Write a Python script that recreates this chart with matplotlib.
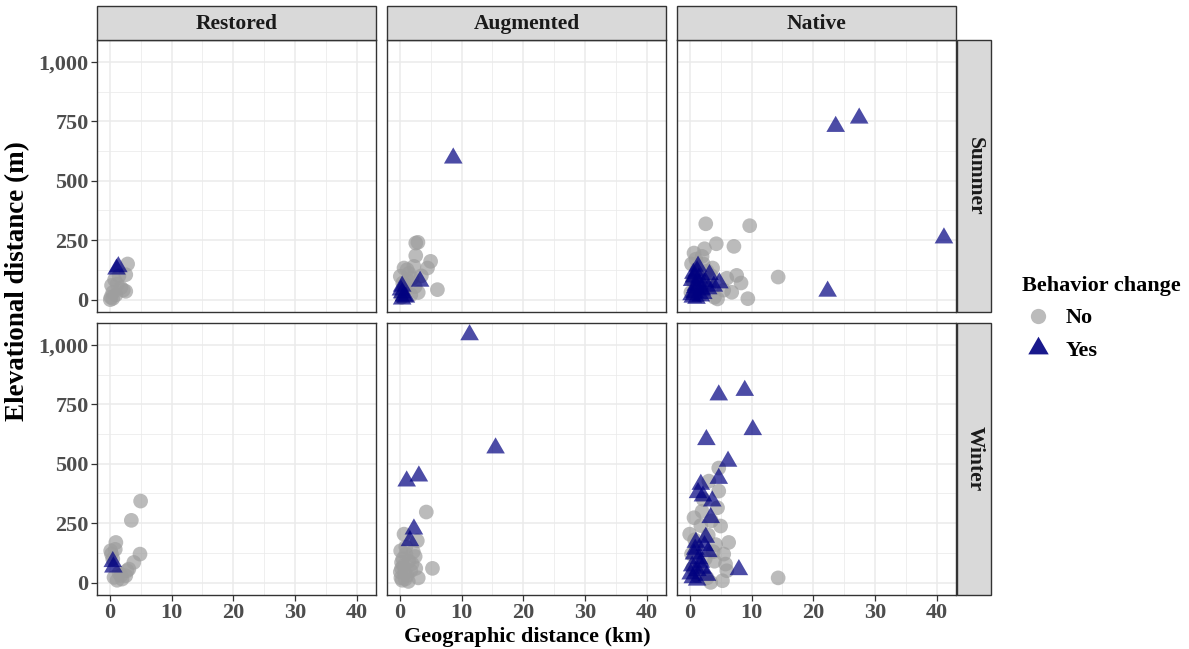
import matplotlib
matplotlib.use("Agg")
import matplotlib.pyplot as plt
from matplotlib.lines import Line2D
from matplotlib.patches import Rectangle
from matplotlib.ticker import MultipleLocator, FuncFormatter

plt.rcParams['font.family'] = ['Liberation Serif', 'DejaVu Serif']
plt.rcParams['font.weight'] = 'bold'

habitats = ["Restored", "Augmented", "Native"]
seasons = ["Summer", "Winter"]
x_ticks = [0, 10, 20, 30, 40]
y_ticks = [0, 250, 500, 750, 1000]

# Restored / Summer
rs_no_x = [0.2, 0.5, 0.3, 0.8, 1.0, 2.6, 2.6, 2.9, 1.5, 0.5, 1.8, 2.2, 0.1, 1.2]
rs_no_y = [10, 30, 60, 84, 20, 35, 105, 150, 100, 5, 50, 40, 0, 65]
rs_yes_x = [1.1, 1.4]
rs_yes_y = [128, 138]

# Augmented / Summer
as_no_x = [2.6, 2.95, 2.6, 5.0, 4.5, 6.1, 0.7, 0.1, 1.2, 2.3, 1.5, 2.0, 0.5, 1.0, 3.0, 1.8, 0.3, 2.5, 1.3, 0.8, 3.5]
as_no_y = [238, 241, 185, 161, 133, 42, 133, 98, 126, 140, 110, 90, 70, 60, 30, 20, 10, 55, 80, 40, 100]
as_yes_x = [8.66, 3.3, 0.4, 0.4, 0.4, 0.7, 0.2, 1.0]
as_yes_y = [595, 77, 56, 28, 2, 15, 40, 10]

# Native / Summer
ns_no_x = [2.6, 9.7, 4.3, 7.15, 2.4, 0.7, 14.3, 7.6, 8.3, 9.4, 6.8, 4.5, 3.7, 2.0, 0.3, 1.0, 1.5, 2.8,
           3.2, 5.5, 0.5, 1.8, 4.0, 6.0, 0.2, 2.2, 3.5, 1.2]
ns_no_y = [319, 311, 235, 224, 214, 196, 95, 102, 70, 4, 31, 3, 133, 182, 150, 170, 100, 120,
           60, 40, 80, 20, 10, 90, 30, 150, 100, 130]
ns_yes_x = [23.6, 27.4, 41.1, 22.3, 1.35, 3.2, 4.8, 3.9, 0.5, 0.8, 1.0, 1.5, 2.0, 0.3, 0.6, 1.2, 2.5,
            1.8, 0.4, 0.9, 1.1, 2.2, 3.0, 0.7, 1.6]
ns_yes_y = [728, 763, 259, 35, 140, 105, 70, 56, 10, 30, 60, 90, 40, 20, 110, 120, 75,
            15, 80, 50, 5, 25, 45, 95, 65]

# Restored / Winter
rw_no_x = [5.0, 3.5, 4.9, 1.0, 0.16, 3.9, 3.1, 2.6, 0.7, 1.5, 2.0, 0.5, 1.2, 0.3, 2.8, 1.8, 0.9]
rw_no_y = [343, 262, 120, 169, 134, 85, 57, 29, 22, 40, 15, 100, 10, 120, 50, 30, 140]
rw_yes_x = [0.5, 0.6]
rw_yes_y = [88, 65]

# Augmented / Winter
aw_no_x = [4.3, 5.3, 0.7, 2.85, 0.16, 0.5, 1.0, 1.5, 2.0, 0.3, 0.8, 1.2, 2.5, 0.2, 0.6, 1.8, 3.0, 0.4,
           1.0, 2.2, 0.1, 1.4, 0.9, 2.6, 0.3]
aw_no_y = [297, 60, 204, 176, 134, 100, 120, 90, 80, 60, 40, 30, 110, 20, 70, 50, 20, 10,
           150, 130, 45, 5, 15, 60, 85]
aw_yes_x = [11.3, 15.5, 1.13, 3.1, 2.3, 1.66]
aw_yes_y = [1042, 566, 427, 448, 225, 176]

# Native / Winter
nw_no_x = [14.3, 4.7, 3.1, 4.7, 0.7, 5.0, 6.3, 5.5, 5.8, 5.3, 3.4, 0.0, 4.5, 2.0, 1.0, 3.0, 2.5, 0.5,
           1.5, 4.0, 3.5, 2.2, 0.3, 1.2, 2.8, 3.8, 0.8, 1.8, 6.0, 4.2]
nw_no_y = [20, 482, 427, 385, 273, 238, 169, 120, 78, 8, 1, 204, 315, 300, 150, 200, 100, 60,
           40, 90, 260, 350, 120, 30, 20, 130, 180, 240, 50, 160]
nw_yes_x = [4.7, 8.9, 10.2, 2.7, 6.2, 4.7, 1.8, 1.35, 2.15, 3.65, 3.4, 7.95, 1.0, 2.6, 2.4, 0.7, 0.16,
            1.25, 3.0, 1.8, 0.5, 2.0, 1.5, 0.9, 2.8, 1.2, 0.4]
nw_yes_y = [789, 808, 643, 601, 510, 438, 413, 378, 364, 343, 273, 54, 169, 190, 155, 120, 36,
            50, 130, 85, 20, 60, 100, 140, 30, 10, 70]

data = {
    ("Summer", "Restored"): (rs_no_x, rs_no_y, rs_yes_x, rs_yes_y),
    ("Summer", "Augmented"): (as_no_x, as_no_y, as_yes_x, as_yes_y),
    ("Summer", "Native"): (ns_no_x, ns_no_y, ns_yes_x, ns_yes_y),
    ("Winter", "Restored"): (rw_no_x, rw_no_y, rw_yes_x, rw_yes_y),
    ("Winter", "Augmented"): (aw_no_x, aw_no_y, aw_yes_x, aw_yes_y),
    ("Winter", "Native"): (nw_no_x, nw_no_y, nw_yes_x, nw_yes_y),
}

W, H = 1189, 649
fig = plt.figure(figsize=(W / 100, H / 100), dpi=100)

col_left = [97, 387, 677]
pw = 279
row_top = [40, 323]
ph = 272

no_color = '#9E9E9E'
yes_color = '#000080'
border = '#333333'
tick_col = '#4D4D4D'

# equilateral triangle marker (ggplot-like shape 17)
tri = [(-1.0, -0.577), (1.0, -0.577), (0.0, 1.155)]

def fx(px):
    return px / W

def fy(py):
    return 1 - py / H

for r, season in enumerate(seasons):
    for c, hab in enumerate(habitats):
        ax = fig.add_axes([fx(col_left[c]), fy(row_top[r] + ph), pw / W, ph / H])
        nx, ny, yx, yy = data[(season, hab)]
        ax.scatter(nx, ny, s=112, marker='o', color=no_color, alpha=0.7, edgecolors='none', zorder=3)
        ax.scatter(yx, yy, s=240, marker=tri, color=yes_color, alpha=0.7, edgecolors='none', zorder=4)
        ax.set_xlim(-2.05, 43.05)
        ax.set_ylim(-52, 1092)
        ax.set_xticks(x_ticks)
        ax.set_yticks(y_ticks)
        ax.xaxis.set_minor_locator(MultipleLocator(5))
        ax.yaxis.set_minor_locator(MultipleLocator(125))
        ax.grid(True, which='major', color='#EBEBEB', linewidth=1.1, zorder=0)
        ax.grid(True, which='minor', color='#EBEBEB', linewidth=0.55, zorder=0)
        ax.set_axisbelow(True)
        ax.tick_params(which='minor', length=0)
        ax.tick_params(which='major', length=4, width=0.9, color=border, labelcolor=tick_col,
                       labelsize=16, pad=2)
        for sp in ax.spines.values():
            sp.set_color(border)
            sp.set_linewidth(1.0)
        ax.yaxis.set_major_formatter(FuncFormatter(lambda v, p: f"{int(v):,}"))
        if c != 0:
            ax.tick_params(axis='y', labelleft=False, length=0)
        if r != 1:
            ax.tick_params(axis='x', labelbottom=False, length=0)
        for lab in ax.get_xticklabels() + ax.get_yticklabels():
            lab.set_fontweight('bold')

# top strips
for c, hab in enumerate(habitats):
    rect = Rectangle((fx(col_left[c]), fy(40)), pw / W, 34 / H, transform=fig.transFigure,
                     facecolor='#D9D9D9', edgecolor=border, linewidth=1.0)
    fig.add_artist(rect)
    fig.text(fx(col_left[c] + pw / 2), fy(24), hab, ha='center', va='center',
             fontsize=15.5, fontweight='bold', color='#1A1A1A')

# right strips
for r, season in enumerate(seasons):
    rect = Rectangle((fx(957), fy(row_top[r] + ph)), 34 / W, ph / H, transform=fig.transFigure,
                     facecolor='#D9D9D9', edgecolor=border, linewidth=1.0)
    fig.add_artist(rect)
    fig.text(fx(975), fy(row_top[r] + ph / 2), season, ha='center', va='center', rotation=-90,
             fontsize=15.5, fontweight='bold', color='#1A1A1A')

fig.text(fx(527), fy(637), "Geographic distance (km)", ha='center', va='center',
         fontsize=16, fontweight='bold')
fig.text(fx(18), fy(281), "Elevational distance (m)", ha='center', va='center', rotation=90,
         fontsize=19.5, fontweight='bold')

handles = [
    Line2D([], [], marker='o', linestyle='none', markersize=11, markerfacecolor=no_color,
           markeredgecolor='none', alpha=0.7),
    Line2D([], [], marker=tri, linestyle='none', markersize=17, markerfacecolor=yes_color,
           markeredgecolor='none', alpha=0.9),
]
leg = fig.legend(handles, ["No", "Yes"], title="Behavior change", loc='upper left',
                 bbox_to_anchor=(fx(1006), fy(260)), frameon=False, fontsize=16,
                 title_fontsize=16, handletextpad=0.5, labelspacing=0.55, borderpad=0.2,
                 handlelength=1.5)
leg.get_title().set_fontweight('bold')
leg._legend_box.align = "left"
for t in leg.get_texts():
    t.set_fontweight('bold')

fig.savefig("out.png", dpi=100)
